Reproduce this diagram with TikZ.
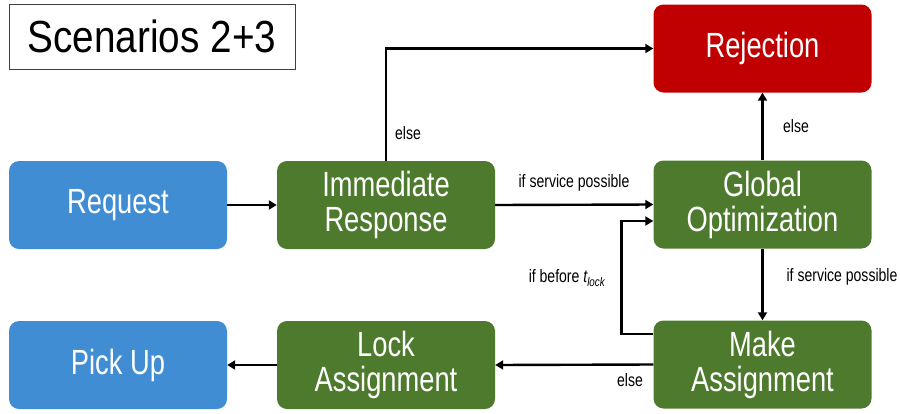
\documentclass[tikz,border=0pt]{standalone}
\usepackage{fontspec}
\setmainfont{Liberation Sans}[FakeStretch=0.78]
\newfontfamily\titlefont{Liberation Sans}[FakeStretch=0.86]
\usetikzlibrary{arrows.meta}
\definecolor{bblue}{RGB}{64,141,212}
\definecolor{bgreen}{RGB}{78,122,46}
\definecolor{bred}{RGB}{192,0,0}
\tikzset{
  x=1pt, y=-1pt,
  box/.style={rounded corners=10pt, minimum width=218pt, minimum height=88pt, inner sep=0pt,
    text=white, align=center, font=\fontsize{35}{35}\selectfont},
  bluebox/.style={box, fill=bblue},
  greenbox/.style={box, fill=bgreen},
  redbox/.style={box, fill=bred},
  arr/.style={line width=2.4pt, -{Triangle[length=8pt,width=9pt]}},
  lbl/.style={font=\fontsize{18}{20}\selectfont, text=black, inner sep=0pt},
}
\begin{document}
\begin{tikzpicture}
\useasboundingbox[fill=white] (0,0) rectangle (900,413);
\node[draw=black!75, line width=1pt, minimum width=286pt, minimum height=65pt, inner sep=0pt,
  font=\titlefont\fontsize{45}{48}\selectfont] (scen) at (152,36.5) {Scenarios 2+3};
\node[bluebox] (req) at (118,205) {Request};
\node[greenbox] (imm) at (386,205) {Immediate\\Response};
\node[redbox] (rej) at (762.5,48.5) {Rejection};
\node[greenbox] (glob) at (762.5,204.5) {Global\\Optimization};
\node[bluebox] (pick) at (118,365) {Pick Up};
\node[greenbox] (lock) at (386,365) {Lock\\Assignment};
\node[greenbox] (make) at (762.5,364.5) {Make\\Assignment};

\draw[arr] (req.east) -- (imm.west);
\draw[arr] (imm.north) |- (rej.west);
\draw[arr] (imm.east) -- (glob.west);
\draw[arr] (glob.north) -- (rej.south);
\draw[arr] (glob.south) -- (make.north);
\draw[arr] ([yshift=30.5pt]make.west) -- ++(-32,0) |- ([yshift=-16.5pt]glob.west);
\draw[arr] (make.west) -- (lock.east);
\draw[arr] (lock.west) -- (pick.east);

\node[lbl] (l1) at (408,133) {else};
\node[lbl] (l2) at (574,183) {if service possible};
\node[lbl] (l3) at (796,126) {else};
\node[lbl] (l4) at (842,277) {if service possible};
\node[lbl] (l5) at (567,278) {if before {\itshape t}\textsubscript{\itshape lock}};
\node[lbl] (l6) at (630,380) {else};
\end{tikzpicture}
\end{document}
